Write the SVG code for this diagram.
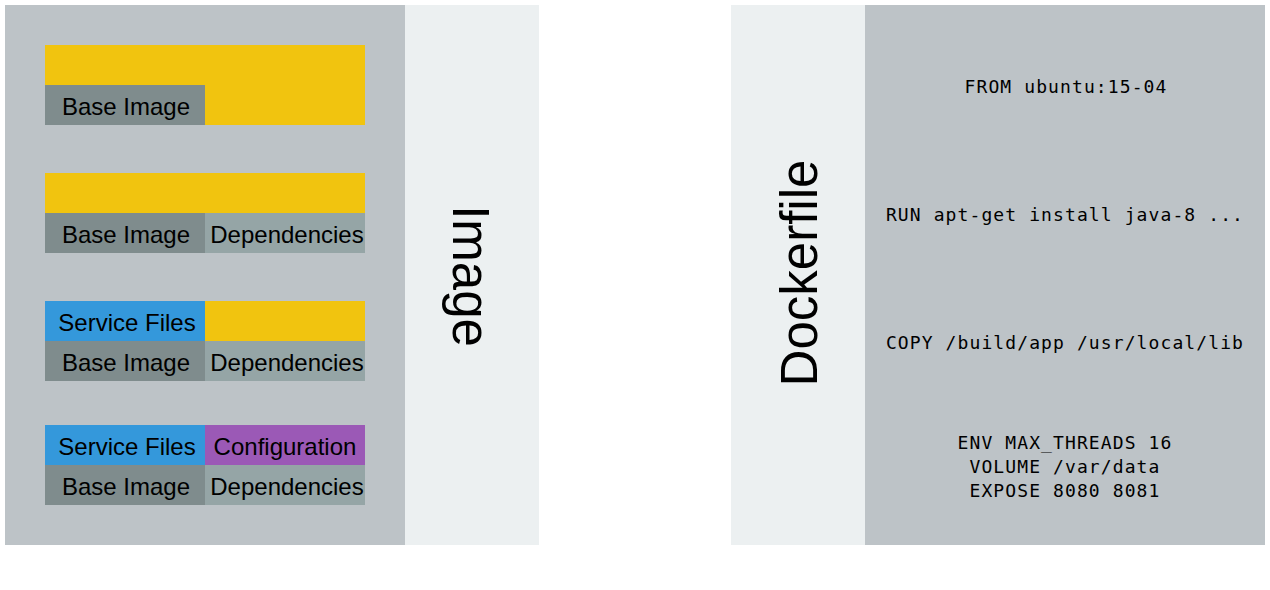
<svg xmlns="http://www.w3.org/2000/svg" width="1270" height="590" viewBox="0 0 1270 590">
<style>
.panel{fill:#bdc3c7}
.side{fill:#ecf0f1}
.yel{fill:#f1c40f}
.base{fill:#7f8c8d}
.dep{fill:#95a5a6}
.svc{fill:#3498db}
.cfg{fill:#9b59b6}
.lbl{font-family:"Liberation Sans",Arial,Helvetica,sans-serif;font-size:24px;fill:#000;text-anchor:middle}
.big{font-family:"Liberation Sans",Arial,Helvetica,sans-serif;font-size:51px;fill:#000;text-anchor:middle}
.code{font-family:"DejaVu Sans Mono","Liberation Mono",monospace;font-size:18px;letter-spacing:1.1px;fill:#000;text-anchor:middle}
</style>
<rect width="1270" height="590" fill="#ffffff"/>
<g id="image-panel">
<rect class="panel" x="5" y="5" width="400" height="540"/>
<rect class="side" x="405" y="5" width="134" height="540"/>
<text class="big" transform="translate(453,276) rotate(90)">Image</text>
</g>
<g id="layer1">
<rect class="yel" x="45" y="45" width="320" height="80"/>
<rect class="base" x="45" y="85" width="160" height="40"/>
<text class="lbl" x="126" y="115">Base Image</text>
</g>
<g id="layer2">
<rect class="yel" x="45" y="173" width="320" height="40"/>
<rect class="base" x="45" y="213" width="160" height="40"/>
<rect class="dep" x="205" y="213" width="160" height="40"/>
<text class="lbl" x="126" y="243">Base Image</text>
<text class="lbl" x="287" y="243">Dependencies</text>
</g>
<g id="layer3">
<rect class="svc" x="45" y="301" width="160" height="40"/>
<rect class="yel" x="205" y="301" width="160" height="40"/>
<rect class="base" x="45" y="341" width="160" height="40"/>
<rect class="dep" x="205" y="341" width="160" height="40"/>
<text class="lbl" x="127" y="331">Service Files</text>
<text class="lbl" x="126" y="371">Base Image</text>
<text class="lbl" x="287" y="371">Dependencies</text>
</g>
<g id="layer4">
<rect class="svc" x="45" y="425" width="160" height="40"/>
<rect class="cfg" x="205" y="425" width="160" height="40"/>
<rect class="base" x="45" y="465" width="160" height="40"/>
<rect class="dep" x="205" y="465" width="160" height="40"/>
<text class="lbl" x="127" y="455">Service Files</text>
<text class="lbl" x="285" y="455">Configuration</text>
<text class="lbl" x="126" y="495">Base Image</text>
<text class="lbl" x="287" y="495">Dependencies</text>
</g>
<g id="dockerfile-panel">
<rect class="side" x="731" y="5" width="134" height="540"/>
<rect class="panel" x="865" y="5" width="400" height="540"/>
<text class="big" transform="translate(817,273) rotate(-90)">Dockerfile</text>
</g>
<g id="dockerfile-lines">
<text class="code" x="1066" y="93">FROM ubuntu:15-04</text>
<text class="code" x="1065" y="221">RUN apt-get install java-8 ...</text>
<text class="code" x="1065" y="349">COPY /build/app /usr/local/lib</text>
<text class="code" x="1065" y="449">ENV MAX_THREADS 16</text>
<text class="code" x="1065" y="473">VOLUME /var/data</text>
<text class="code" x="1065" y="497">EXPOSE 8080 8081</text>
</g>
<g id="connectors"></g>
</svg>
